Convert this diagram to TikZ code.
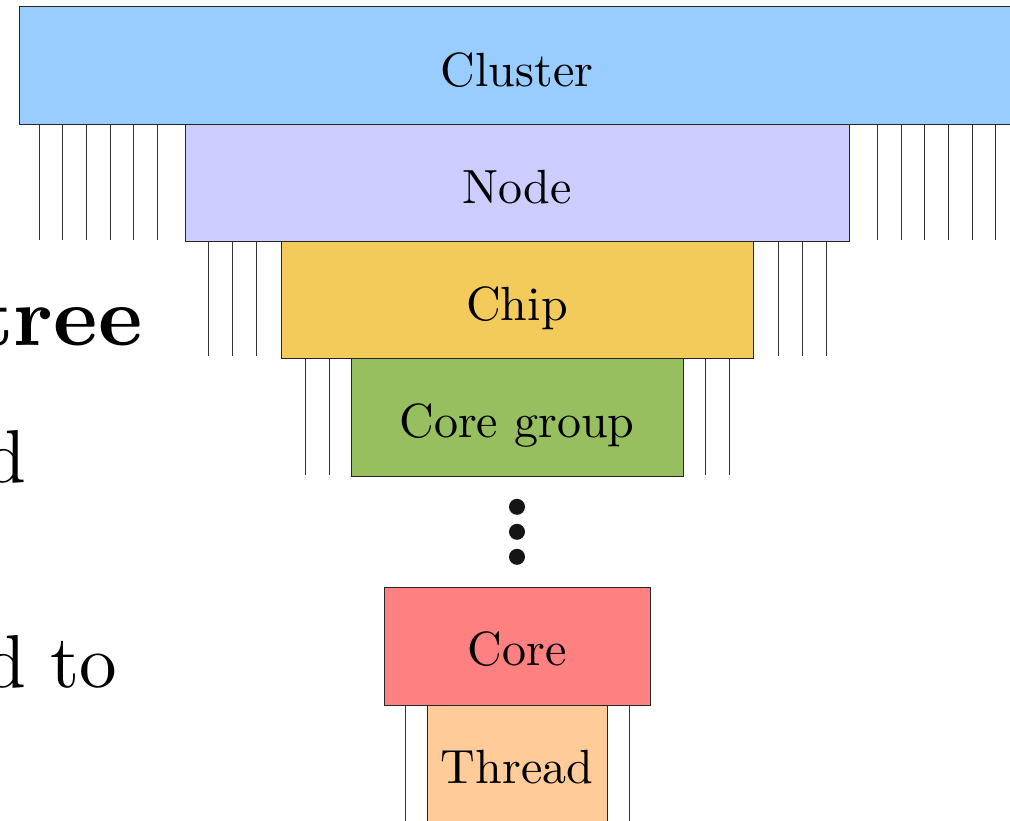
\documentclass[tikz,border=0pt]{standalone}
\definecolor{cCluster}{HTML}{99CCFF}
\definecolor{cNode}{HTML}{CCCCFF}
\definecolor{cChip}{HTML}{F3CB5B}
\definecolor{cGroup}{HTML}{97BE5F}
\definecolor{cCore}{HTML}{FF8080}
\definecolor{cThread}{HTML}{FFCC99}
\definecolor{dotc}{HTML}{151515}
\begin{document}
\begin{tikzpicture}[x=1pt,y=-1pt,
  layerbox/.style={draw=black!85, line width=0.8pt, inner sep=0pt, anchor=north},
  lbl/.style={scale=4.8, anchor=base, inner sep=0pt},
  side/.style={scale=7.5, anchor=base east, inner sep=0pt},
  hang/.style={draw=black!80, line width=0.8pt},
  dotnode/.style={circle, fill=dotc, inner sep=0pt, minimum size=16pt}]
\path[use as bounding box, clip] (0,0) rectangle (1010,820);
\fill[white] (0,0) rectangle (1010,820);
% boxes
\node[layerbox, fill=cCluster, minimum width=996pt, minimum height=118pt] (cluster) at (517,6) {};
\node[layerbox, fill=cNode, minimum width=664pt, minimum height=117pt] (node) at (517,124) {};
\node[layerbox, fill=cChip, minimum width=472pt, minimum height=117pt] (chip) at (517,241) {};
\node[layerbox, fill=cGroup, minimum width=332pt, minimum height=118pt] (group) at (517,358) {};
\node[layerbox, fill=cCore, minimum width=266pt, minimum height=118pt] (core) at (517,587) {};
\node[layerbox, fill=cThread, minimum width=180pt, minimum height=118pt] (thread) at (517,705) {};
% labels
\node[lbl] (lcluster) at ([yshift=-80pt]cluster.north) {Cluster};
\node[lbl] (lnode) at ([yshift=-79pt]node.north) {Node};
\node[lbl] (lchip) at ([yshift=-79pt]chip.north) {Chip};
\node[lbl] (lgroup) at ([yshift=-79pt]group.north) {Core group};
\node[lbl] (lcore) at ([yshift=-78pt]core.north) {Core};
\node[lbl] (lthread) at ([yshift=-78pt]thread.north) {Thread};
% hanging lines
\foreach \d in {360,384,407,431,455,478} {
  \draw[hang] ([xshift=-\d pt]cluster.south) -- ++(0,115);
  \draw[hang] ([xshift=\d pt]cluster.south) -- ++(0,115);
}
\foreach \d in {261,285,309} {
  \draw[hang] ([xshift=-\d pt]node.south) -- ++(0,114);
  \draw[hang] ([xshift=\d pt]node.south) -- ++(0,114);
}
\foreach \d in {188,212} {
  \draw[hang] ([xshift=-\d pt]chip.south) -- ++(0,116);
  \draw[hang] ([xshift=\d pt]chip.south) -- ++(0,116);
}
\foreach \d in {112} {
  \draw[hang] ([xshift=-\d pt]core.south) -- ++(0,130);
  \draw[hang] ([xshift=\d pt]core.south) -- ++(0,130);
}
% dots
\node[dotnode] (dot1) at ([yshift=-30pt]group.south) {};
\node[dotnode] (dot2) at ([yshift=-55pt]group.south) {};
\node[dotnode] (dot3) at ([yshift=-80pt]group.south) {};
% side text (cut off at the left edge)
\node[font=\bfseries, scale=8.4, anchor=base east, inner sep=0pt] (side1) at (144,345) {tree};
\node[side] (side2) at (27.5,482) {d};
\node[side] (side3) at (119,687) {d to};
\end{tikzpicture}
\end{document}
